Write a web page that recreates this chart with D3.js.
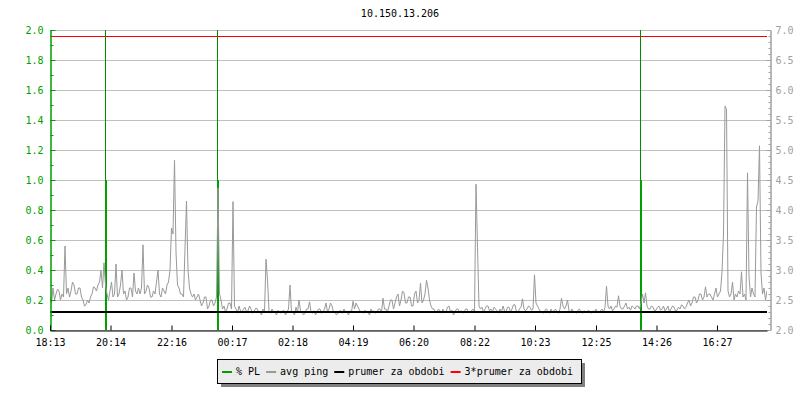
<!DOCTYPE html>
<html>
<head>
<meta charset="utf-8">
<script src="https://cdn.jsdelivr.net/npm/d3@7"></script>
<style>
body { margin: 0; background: #fff; }
text { font-family: "DejaVu Sans Mono", monospace; font-size: 10px; }
</style>
</head>
<body>
<div id="chart"></div>
<script>
var title = "10.150.13.206"
var startTime = "18:13"
var spanMinutes = 1434
var tickLabels = ["18:13", "20:14", "22:16", "00:17", "02:18", "04:19", "06:20", "08:22", "10:23", "12:25", "14:26", "16:27"]

// avg ping (ms), one value every 3 minutes from the start
var pingStep = 3
var avgPing = [
    2.55, 2.45, 2.7, 2.5, 2.6, 2.68, 2.65, 2.5, 2.6, 2.55, 3.4, 2.6, 2.7, 2.55, 2.65, 2.8, 2.75, 2.6, 2.6, 2.7,
    2.7, 2.55, 2.5, 2.4, 2.42, 2.5, 2.45, 2.55, 2.6, 2.72, 2.7, 2.65, 2.75, 2.8, 3.0, 2.7, 3.12, 2.75, 2.6, 2.5,
    2.65, 2.8, 2.55, 2.6, 3.1, 2.55, 2.6, 2.75, 3.0, 2.6, 2.65, 2.5, 2.55, 2.7, 2.7, 2.55, 2.95, 2.65, 2.6, 2.7,
    2.6, 2.7, 3.42, 2.6, 2.65, 2.75, 2.7, 2.55, 2.55, 2.65, 2.6, 2.8, 3.0, 2.6, 2.55, 2.7, 2.65, 2.6, 2.75, 2.8,
    3.0, 3.7, 3.6, 4.83, 3.3, 2.75, 2.7, 2.6, 2.6, 2.55, 3.35, 4.15, 3.0, 2.7, 2.6, 2.55, 2.6, 2.5, 2.55, 2.6,
    2.5, 2.4, 2.45, 2.55, 2.55, 2.35, 2.4, 2.5, 2.5, 2.4, 2.45, 2.55, 4.37, 2.6, 2.5, 2.35, 2.4, 2.3, 2.35, 2.45,
    2.45, 2.35, 4.14, 2.4, 2.35, 2.28, 2.4, 2.32, 2.3, 2.35, 2.38, 2.3, 2.32, 2.4, 2.35, 2.28, 2.3, 2.36, 2.36, 2.3,
    2.3, 2.25, 2.35, 2.3, 3.18, 2.83, 2.32, 2.28, 2.35, 2.3, 2.3, 2.25, 2.33, 2.3, 2.28, 2.32, 2.32, 2.25, 2.3, 2.35,
    2.75, 2.3, 2.3, 2.25, 2.38, 2.3, 2.5, 2.32, 2.3, 2.25, 2.28, 2.35, 2.35, 2.47, 2.3, 2.28, 2.32, 2.25, 2.3, 2.35,
    2.35, 2.28, 2.3, 2.35, 2.45, 2.3, 2.35, 2.45, 2.4, 2.3, 2.3, 2.25, 2.28, 2.32, 2.32, 2.28, 2.35, 2.3, 2.3, 2.25,
    2.32, 2.3, 2.48, 2.35, 2.45, 2.4, 2.35, 2.3, 2.3, 2.28, 2.33, 2.3, 2.3, 2.25, 2.35, 2.3, 2.32, 2.28, 2.3, 2.35,
    2.35, 2.3, 2.53, 2.35, 2.35, 2.3, 2.4, 2.5, 2.5, 2.35, 2.45, 2.55, 2.6, 2.4, 2.5, 2.65, 2.62, 2.45, 2.45, 2.55,
    2.55, 2.4, 2.4, 2.6, 2.65, 2.45, 2.5, 2.78, 2.45, 2.5, 2.6, 2.83, 2.7, 2.5, 2.4, 2.35, 2.35, 2.3, 2.3, 2.35,
    2.32, 2.28, 2.35, 2.3, 2.3, 2.38, 2.4, 2.3, 2.33, 2.25, 2.3, 2.35, 2.35, 2.3, 2.32, 2.3, 2.28, 2.35, 2.35, 2.3,
    2.3, 2.32, 2.35, 2.3, 4.43, 3.38, 2.4, 2.35, 2.38, 2.3, 2.35, 2.4, 2.4, 2.32, 2.35, 2.3, 2.38, 2.35, 2.32, 2.28,
    2.35, 2.3, 2.4, 2.32, 2.3, 2.38, 2.38, 2.3, 2.35, 2.42, 2.42, 2.3, 2.3, 2.35, 2.38, 2.52, 2.35, 2.32, 2.35, 2.4,
    2.38, 2.33, 2.35, 2.92, 2.45, 2.4, 2.35, 2.3, 2.3, 2.28, 2.33, 2.35, 2.3, 2.28, 2.35, 2.3, 2.32, 2.35, 2.3, 2.28,
    2.35, 2.53, 2.4, 2.35, 2.4, 2.5, 2.32, 2.3, 2.35, 2.3, 2.3, 2.28, 2.33, 2.35, 2.3, 2.28, 2.32, 2.3, 2.3, 2.33,
    2.3, 2.28, 2.32, 2.3, 2.35, 2.3, 2.3, 2.32, 2.35, 2.3, 2.38, 2.73, 2.4, 2.35, 2.4, 2.32, 2.35, 2.4, 2.38, 2.57,
    2.4, 2.35, 2.35, 2.4, 2.45, 2.35, 2.38, 2.33, 2.4, 2.38, 2.35, 2.4, 2.4, 2.35, 2.45, 2.6, 2.45, 2.62, 2.4, 2.35,
    2.35, 2.4, 2.38, 2.32, 2.33, 2.38, 2.4, 2.33, 2.35, 2.4, 2.32, 2.35, 2.4, 2.3, 2.35, 2.4, 2.38, 2.32, 2.33, 2.38,
    2.35, 2.42, 2.4, 2.35, 2.38, 2.45, 2.5, 2.4, 2.45, 2.55, 2.55, 2.45, 2.5, 2.6, 2.6, 2.5, 2.55, 2.72, 2.55, 2.6,
    2.6, 2.55, 2.5, 2.6, 2.7, 2.55, 2.6, 2.65, 2.97, 3.6, 5.73, 5.68, 2.65, 2.55, 2.6, 2.8, 2.5, 2.6, 2.55, 2.65,
    2.6, 2.97, 2.55, 2.6, 2.5, 4.62, 2.9, 2.55, 2.7, 2.6, 2.55, 4.05, 4.15, 5.07, 2.95, 2.6, 2.7, 2.5, 2.65, 2.55
]

// packet loss events (minutes from start): one sample off the scale, then 1 %
var plTimes = [110, 334, 1181]
var plPeak = [100, 100, 100]
var plValues = [1.0, 1.0, 1.0]

var meanPing = 2.3
var legendLabels = ["% PL", "avg ping", "prumer za obdobi", "3*prumer za obdobi"]

function toMinutes(label) {
    var p = label.split(":"), s = startTime.split(":")
    var m = (+p[0] * 60 + +p[1]) - (+s[0] * 60 + +s[1])
    return m < 0 ? m + 1440 : m
}

var width = 800, height = 400
var green = "#00a000", grey = "#999999"

var svg = d3.select("#chart").append("svg")
    .attr("width", width)
    .attr("height", height)

var x = d3.scaleLinear().domain([0, spanMinutes]).range([50, 767])
var yL = d3.scaleLinear().domain([0, 2]).range([330, 30])
var yR = d3.scaleLinear().domain([2, 7]).range([330, 30])

svg.append("defs").append("clipPath").attr("id", "plot")
    .append("rect").attr("x", 50).attr("y", 30).attr("width", 717).attr("height", 300)

svg.append("text")
    .attr("x", 400).attr("y", 17)
    .attr("text-anchor", "middle")
    .text(title)

// grid
svg.append("g")
    .selectAll("line")
    .data(yL.ticks(10))
    .join("line")
    .attr("x1", 50).attr("x2", 767)
    .attr("y1", d => Math.round(yL(d)) + 0.5)
    .attr("y2", d => Math.round(yL(d)) + 0.5)
    .attr("stroke", "#c0c0c0")

var plot = svg.append("g").attr("clip-path", "url(#plot)")

// packet loss
plot.append("g")
    .selectAll("line")
    .data(plTimes)
    .join("line")
    .attr("x1", d => Math.round(x(d)) + 0.5)
    .attr("x2", d => Math.round(x(d)) + 0.5)
    .attr("y1", yL(0))
    .attr("y2", (d, i) => Math.max(yL(plPeak[i]), 30))
    .attr("stroke", "#008c00")

plot.append("g")
    .selectAll("rect")
    .data(plTimes)
    .join("rect")
    .attr("x", d => Math.round(x(d)))
    .attr("width", 2)
    .attr("y", (d, i) => yL(plValues[i]))
    .attr("height", (d, i) => yL(0) - yL(plValues[i]))
    .attr("fill", green)

// avg ping
var line = d3.line()
    .x((d, i) => x(i * pingStep))
    .y(d => yR(d))

plot.append("path")
    .datum(avgPing)
    .attr("d", line)
    .attr("fill", "none")
    .attr("stroke", grey)
    .attr("stroke-width", 1)

// mean and 3*mean
plot.append("line")
    .attr("x1", 50).attr("x2", 767)
    .attr("y1", yR(meanPing)).attr("y2", yR(meanPing))
    .attr("stroke", "#000")
    .attr("stroke-width", 2)

plot.append("line")
    .attr("x1", 50).attr("x2", 767)
    .attr("y1", Math.round(yR(3 * meanPing)) + 0.5).attr("y2", Math.round(yR(3 * meanPing)) + 0.5)
    .attr("stroke", "#ff0000")

function styleAxis(g, color) {
    g.selectAll("path, line").attr("stroke", color)
    g.selectAll("text").attr("fill", color)
        .style("font-size", "10px").style("font-family", "DejaVu Sans Mono")
}

// left axis
svg.append("g")
    .attr("transform", "translate(50.5,0)")
    .call(d3.axisLeft(yL).ticks(20).tickSizeInner(-3).tickSizeOuter(0).tickFormat(""))
    .call(styleAxis, green)
svg.append("g")
    .attr("transform", "translate(50.5,0)")
    .call(d3.axisLeft(yL).ticks(10).tickSizeInner(-5).tickSizeOuter(0).tickPadding(7).tickFormat(d3.format(".1f")))
    .call(styleAxis, green)

// right axis
svg.append("g")
    .attr("transform", "translate(770.5,0)")
    .call(d3.axisRight(yR).ticks(50).tickSizeInner(-2).tickSizeOuter(0).tickFormat(""))
    .call(styleAxis, "#a0a0a0")
svg.append("g")
    .attr("transform", "translate(770.5,0)")
    .call(d3.axisRight(yR).ticks(10).tickSizeInner(-4).tickSizeOuter(0).tickPadding(5).tickFormat(d3.format(".1f")))
    .call(styleAxis, "#a0a0a0")

// x axis
svg.append("g")
    .attr("transform", "translate(0,330.5)")
    .call(d3.axisBottom(x).tickValues(tickLabels.map(toMinutes)).tickSizeInner(-5).tickSizeOuter(0).tickPadding(8)
        .tickFormat((d, i) => tickLabels[i]))
    .call(styleAxis, "#000")

// legend
var legendColors = [green, grey, "#000", "#ff0000"]
var legend = svg.append("g")
legend.append("rect")
    .attr("x", 221).attr("y", 363).attr("width", 364).attr("height", 24)
    .attr("fill", "#808080")
legend.append("rect")
    .attr("x", 217.5).attr("y", 359.5).attr("width", 364).attr("height", 24)
    .attr("fill", "#ececec").attr("stroke", "#000")

var lx = 222
legendLabels.forEach(function(label, i) {
    legend.append("rect")
        .attr("x", lx).attr("y", 371).attr("width", 10).attr("height", 2)
        .attr("fill", legendColors[i])
    var t = legend.append("text")
        .attr("x", lx + 14).attr("y", 375)
        .attr("fill", "#000")
        .text(label)
    lx += 14 + t.node().getComputedTextLength() + 6
})
</script>
</body>
</html>
